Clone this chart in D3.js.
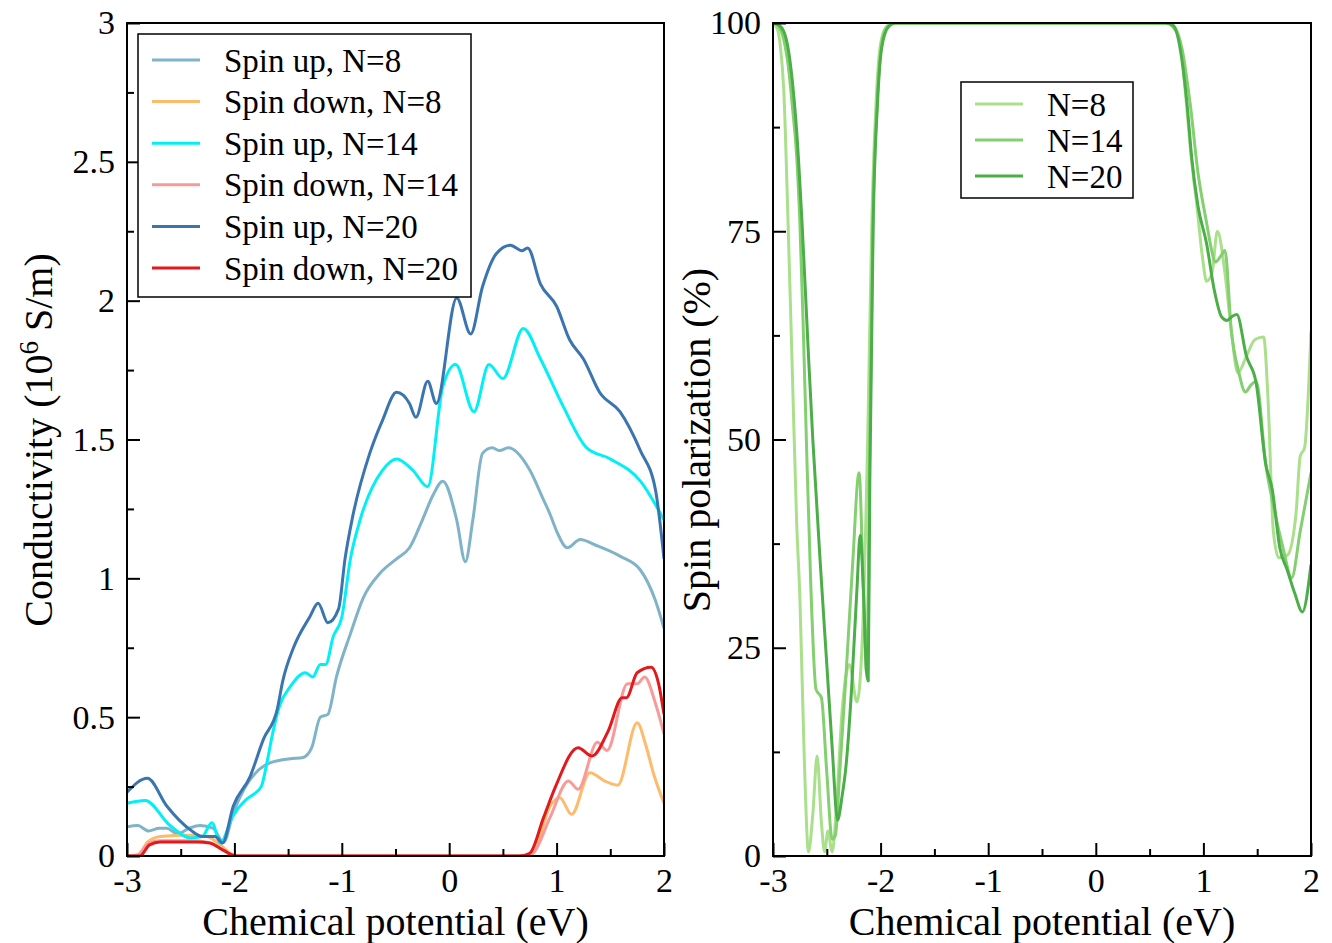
<!DOCTYPE html>
<html>
<head>
<meta charset="utf-8">
<script src="https://d3js.org/d3.v7.min.js"></script>
<style>
  body { margin: 0; background: #fff; }
  text { font-family: "Liberation Serif", "Times New Roman", serif; fill: #000; }
</style>
</head>
<body>
<svg id="chart" width="1332" height="943"></svg>
<script>
// ---------- left panel: conductivity (10^6 S/m) vs chemical potential (eV)
var upN8X = [-3, -2.9, -2.8, -2.7, -2.63, -2.53, -2.42, -2.32, -2.2, -2.1, -2.01, -1.88, -1.8, -1.67, -1.48, -1.36, -1.28, -1.2, -1.13, -1.05, -0.92, -0.8, -0.64, -0.49, -0.37, -0.25, -0.15, -0.06, 0.07, 0.15, 0.22, 0.31, 0.4, 0.47, 0.55, 0.75, 0.87, 0.94, 1.0, 1.1, 1.22, 1.36, 1.59, 1.78, 1.92, 2.0];
var upN8Y = [0.105, 0.11, 0.09, 0.1, 0.1, 0.08, 0.1, 0.11, 0.1, 0.05, 0.155, 0.26, 0.3, 0.335, 0.35, 0.355, 0.39, 0.5, 0.51, 0.645, 0.8, 0.93, 1.02, 1.07, 1.11, 1.21, 1.3, 1.35, 1.21, 1.06, 1.21, 1.45, 1.47, 1.46, 1.47, 1.39, 1.29, 1.23, 1.17, 1.11, 1.14, 1.12, 1.08, 1.03, 0.92, 0.82];

var downN8X = [-3, -2.9, -2.81, -2.69, -2.44, -2.26, -2.13, -2.04, -1.95, 0.7, 0.78, 0.94, 1.03, 1.14, 1.31, 1.45, 1.57, 1.75, 1.83, 1.9, 2.0];
var downN8Y = [0, 0, 0.05, 0.07, 0.075, 0.07, 0.04, 0.01, 0, 0, 0.01, 0.18, 0.21, 0.15, 0.3, 0.27, 0.255, 0.48, 0.4, 0.3, 0.19];

var upN14X = [-3, -2.83, -2.6, -2.41, -2.3, -2.21, -2.13, -2.02, -1.9, -1.83, -1.75, -1.69, -1.65, -1.58, -1.48, -1.34, -1.27, -1.2, -1.15, -1.08, -1.0, -0.92, -0.83, -0.62, -0.49, -0.34, -0.2, -0.06, 0.06, 0.23, 0.37, 0.5, 0.69, 0.85, 1.06, 1.28, 1.5, 1.78, 2.0];
var upN14Y = [0.19, 0.2, 0.11, 0.065, 0.07, 0.12, 0.047, 0.14, 0.2, 0.22, 0.25, 0.35, 0.43, 0.54, 0.61, 0.66, 0.645, 0.69, 0.69, 0.79, 0.86, 1.07, 1.21, 1.39, 1.43, 1.39, 1.33, 1.69, 1.77, 1.6, 1.77, 1.72, 1.9, 1.79, 1.62, 1.47, 1.43, 1.35, 1.21];

var downN14X = [-3, -2.9, -2.8, -2.7, -2.4, -2.25, -2.12, -2.0, 0.7, 0.78, 0.94, 1.11, 1.2, 1.38, 1.47, 1.66, 1.75, 1.82, 1.92, 2.0];
var downN14Y = [0, 0.005, 0.045, 0.055, 0.055, 0.05, 0.025, 0, 0, 0.01, 0.14, 0.27, 0.24, 0.41, 0.38, 0.62, 0.62, 0.645, 0.55, 0.44];

var upN20X = [-3, -2.81, -2.63, -2.41, -2.3, -2.18, -2.11, -2.01, -1.855, -1.73, -1.6, -1.55, -1.45, -1.3, -1.22, -1.13, -1.03, -0.97, -0.9, -0.74, -0.62, -0.49, -0.37, -0.31, -0.2, -0.12, 0.07, 0.2, 0.31, 0.44, 0.57, 0.68, 0.73, 0.85, 1.0, 1.12, 1.25, 1.4, 1.59, 1.78, 1.92, 2.0];
var upN20Y = [0.23, 0.28, 0.18, 0.094, 0.07, 0.07, 0.047, 0.18, 0.285, 0.42, 0.53, 0.63, 0.75, 0.86, 0.91, 0.84, 0.89, 1.07, 1.22, 1.45, 1.57, 1.67, 1.63, 1.58, 1.71, 1.63, 2.01, 1.88, 2.05, 2.17, 2.2, 2.18, 2.19, 2.06, 1.98, 1.86, 1.79, 1.67, 1.6, 1.46, 1.32, 1.07];

var downN20X = [-3, -2.88, -2.79, -2.69, -2.35, -2.23, -2.1, -1.98, 0.65, 0.75, 0.88, 0.99, 1.2, 1.33, 1.48, 1.61, 1.65, 1.75, 1.88, 1.95, 2.0];
var downN20Y = [0, 0, 0.04, 0.05, 0.05, 0.047, 0.02, 0, 0, 0.01, 0.14, 0.25, 0.39, 0.36, 0.45, 0.57, 0.57, 0.66, 0.68, 0.62, 0.51];

// ---------- right panel: spin polarization (%) vs chemical potential (eV)
var polN8X = [-3, -2.96, -2.93, -2.9, -2.86, -2.82, -2.78, -2.75, -2.71, -2.67, -2.63, -2.59, -2.55, -2.52, -2.49, -2.45, -2.41, -2.36, -2.29, -2.22, -2.17, -2.12, -2.08, -2.04, -2.0, -1.95, -1.88, 0.65, 0.72, 0.78, 0.83, 0.89, 0.94, 0.99, 1.03, 1.08, 1.13, 1.2, 1.26, 1.32, 1.4, 1.48, 1.56, 1.6, 1.65, 1.7, 1.78, 1.86, 1.9, 1.94, 2.0];
var polN8Y = [100, 99.3, 97, 92, 76, 58, 40, 31, 12, 0.5, 5, 12, 4, 0.5, 3, 0.5, 6, 17, 23, 18.5, 26, 50, 77, 91, 97.5, 99.5, 100, 100, 99.7, 98, 92, 83.5, 78, 72, 69, 70, 75, 70, 63, 58, 60, 62, 62.3, 55, 39, 35.8, 36.1, 41, 48, 49, 63];

var polN14X = [-3, -2.95, -2.9, -2.86, -2.82, -2.78, -2.75, -2.72, -2.69, -2.65, -2.6, -2.55, -2.5, -2.45, -2.42, -2.38, -2.32, -2.26, -2.2, -2.16, -2.13, -2.1, -2.07, -2.03, -1.99, -1.94, -1.87, 0.65, 0.72, 0.8, 0.88, 0.95, 1.03, 1.08, 1.11, 1.16, 1.2, 1.26, 1.33, 1.39, 1.44, 1.49, 1.58, 1.66, 1.74, 1.82, 1.9, 2.0];
var polN14Y = [100, 99.6, 98, 95, 90, 84, 76, 64, 50, 33, 20, 19, 10, 2, 2.5, 10, 22, 35, 46, 32, 22, 50, 77, 91, 97.5, 99.5, 100, 100, 99.5, 97, 90, 82, 76, 72.5, 71.3, 72, 72.7, 63, 58, 55.7, 56.5, 57, 47, 41.5, 37, 33.4, 39, 46];

var polN20X = [-3, -2.95, -2.9, -2.86, -2.82, -2.78, -2.73, -2.67, -2.63, -2.55, -2.5, -2.45, -2.4, -2.36, -2.32, -2.27, -2.22, -2.19, -2.16, -2.13, -2.115, -2.1, -2.07, -2.03, -1.99, -1.93, -1.86, 0.65, 0.72, 0.8, 0.85, 0.89, 0.95, 1.03, 1.1, 1.17, 1.22, 1.27, 1.31, 1.4, 1.49, 1.58, 1.64, 1.71, 1.78, 1.85, 1.92, 2.0];
var polN20Y = [100, 99.8, 99, 97, 93, 87, 76, 60, 50, 33, 23, 13, 4.3, 7, 11, 20, 32, 38.5, 32, 22, 21, 45, 75, 90, 97, 99.5, 100, 100, 99.7, 95.6, 90, 84, 78, 73.5, 68, 64.7, 64.3, 64.8, 65, 60, 56.8, 47, 44, 37, 34.3, 31.5, 29.3, 35];

// tick labels
var xTicks = [-3, -2, -1, 0, 1, 2];
var condTicks = [0, 0.5, 1, 1.5, 2, 2.5, 3];
var polTicks = [0, 25, 50, 75, 100];

function zip(xs, ys) { return xs.map(function(x, i) { return [x, ys[i]]; }); }

var condSeries = [
  {name: "Spin up, N=8",    color: "#7fb3c8", pts: zip(upN8X, upN8Y)},
  {name: "Spin down, N=8",  color: "#fdbb6c", pts: zip(downN8X, downN8Y)},
  {name: "Spin up, N=14",   color: "#00f0f5", pts: zip(upN14X, upN14Y)},
  {name: "Spin down, N=14", color: "#f89a9a", pts: zip(downN14X, downN14Y)},
  {name: "Spin up, N=20",   color: "#3b75b0", pts: zip(upN20X, upN20Y)},
  {name: "Spin down, N=20", color: "#e3191c", pts: zip(downN20X, downN20Y)}
];
var polSeries = [
  {name: "N=8",  color: "#aadf8c", pts: zip(polN8X, polN8Y)},
  {name: "N=14", color: "#84cf70", pts: zip(polN14X, polN14Y)},
  {name: "N=20", color: "#4cae48", pts: zip(polN20X, polN20Y)}
];

var svg = d3.select("#chart");

function drawPanel(p) {
  var x = d3.scaleLinear().domain([-3, 2]).range([p.left, p.right]);
  var y = d3.scaleLinear().domain(p.yDomain).range([856, 23]);
  var g = svg.append("g");

  // clip lines to the inside of the plot box
  g.append("clipPath").attr("id", p.id)
    .append("rect").attr("x", p.left).attr("y", 24)
    .attr("width", p.right - p.left).attr("height", 831);

  var line = d3.line()
    .x(function(d) { return x(d[0]); })
    .y(function(d) { return y(d[1]); })
    .curve(d3.curveMonotoneX);

  g.append("g").attr("clip-path", "url(#" + p.id + ")")
    .selectAll("path").data(p.series).enter().append("path")
    .attr("d", function(d) { return line(d.pts); })
    .attr("fill", "none")
    .attr("stroke", function(d) { return d.color; })
    .attr("stroke-width", 3)
    .attr("stroke-linejoin", "round");

  // minor ticks (inward)
  g.append("g").attr("transform", "translate(0,856)")
    .call(d3.axisBottom(x).tickValues(d3.range(-2.5, 2, 1)).tickSize(-7).tickFormat(""))
    .call(function(a) { a.select(".domain").remove(); });
  g.append("g").attr("transform", "translate(" + p.left + ",0)")
    .call(d3.axisLeft(y).tickValues(p.minor).tickSize(-7).tickFormat(""))
    .call(function(a) { a.select(".domain").remove(); });

  // major ticks + labels
  var xa = g.append("g").attr("transform", "translate(0,856)")
    .call(d3.axisBottom(x).tickValues(xTicks).tickSize(-13).tickPadding(12).tickFormat(d3.format("d")));
  xa.select(".domain").remove();
  xa.selectAll("text").style("font-size", "34px").text(function(d) { return String(d); });

  var ya = g.append("g").attr("transform", "translate(" + p.left + ",0)")
    .call(d3.axisLeft(y).tickValues(p.ticks).tickSize(-13).tickPadding(12).tickFormat(function(d) { return String(d); }));
  ya.select(".domain").remove();
  ya.selectAll("text").style("font-size", "34px");

  g.selectAll(".tick line").attr("stroke", "#000").attr("stroke-width", 2);

  // frame
  g.append("rect").attr("x", p.left).attr("y", 23)
    .attr("width", p.right - p.left).attr("height", 833)
    .attr("fill", "none").attr("stroke", "#000").attr("stroke-width", 2);

  // axis titles
  g.append("text").attr("x", (p.left + p.right) / 2).attr("y", 935)
    .attr("text-anchor", "middle").style("font-size", "40px")
    .text("Chemical potential (eV)");

  var yt = g.append("text")
    .attr("transform", "translate(" + p.titleX + ",440) rotate(-90)")
    .attr("text-anchor", "middle").style("font-size", "40px");
  p.title(yt);

  // legend
  var L = p.legend;
  var lg = g.append("g");
  lg.append("rect").attr("x", L.x).attr("y", L.y).attr("width", L.w).attr("height", L.h)
    .attr("fill", "#fff").attr("stroke", "#000").attr("stroke-width", 1.5);
  var row = lg.selectAll("g.row").data(p.series).enter().append("g").attr("class", "row")
    .attr("transform", function(d, i) { return "translate(" + L.x + "," + (L.y + L.first + i * L.step) + ")"; });
  row.append("line").attr("x1", 14).attr("x2", 62).attr("y1", 0).attr("y2", 0)
    .attr("stroke", function(d) { return d.color; }).attr("stroke-width", 3);
  row.append("text").attr("x", 86).attr("dy", "0.35em").style("font-size", "33px")
    .text(function(d) { return d.name; });
}

drawPanel({
  id: "clipL", left: 127, right: 664, yDomain: [0, 3],
  ticks: condTicks, minor: d3.range(0.25, 3, 0.5),
  series: condSeries, titleX: 52,
  title: function(t) {
    t.append("tspan").text("Conductivity (10");
    t.append("tspan").attr("dy", "-14").style("font-size", "27px").text("6");
    t.append("tspan").attr("dy", "14").text(" S/m)");
  },
  legend: {x: 138, y: 34, w: 333, h: 263, first: 26, step: 41.6}
});

drawPanel({
  id: "clipR", left: 773, right: 1311, yDomain: [0, 100],
  ticks: polTicks, minor: d3.range(12.5, 100, 25),
  series: polSeries, titleX: 710,
  title: function(t) { t.text("Spin polarization (%)"); },
  legend: {x: 961, y: 82, w: 172, h: 116, first: 22, step: 36}
});
</script>
</body>
</html>
